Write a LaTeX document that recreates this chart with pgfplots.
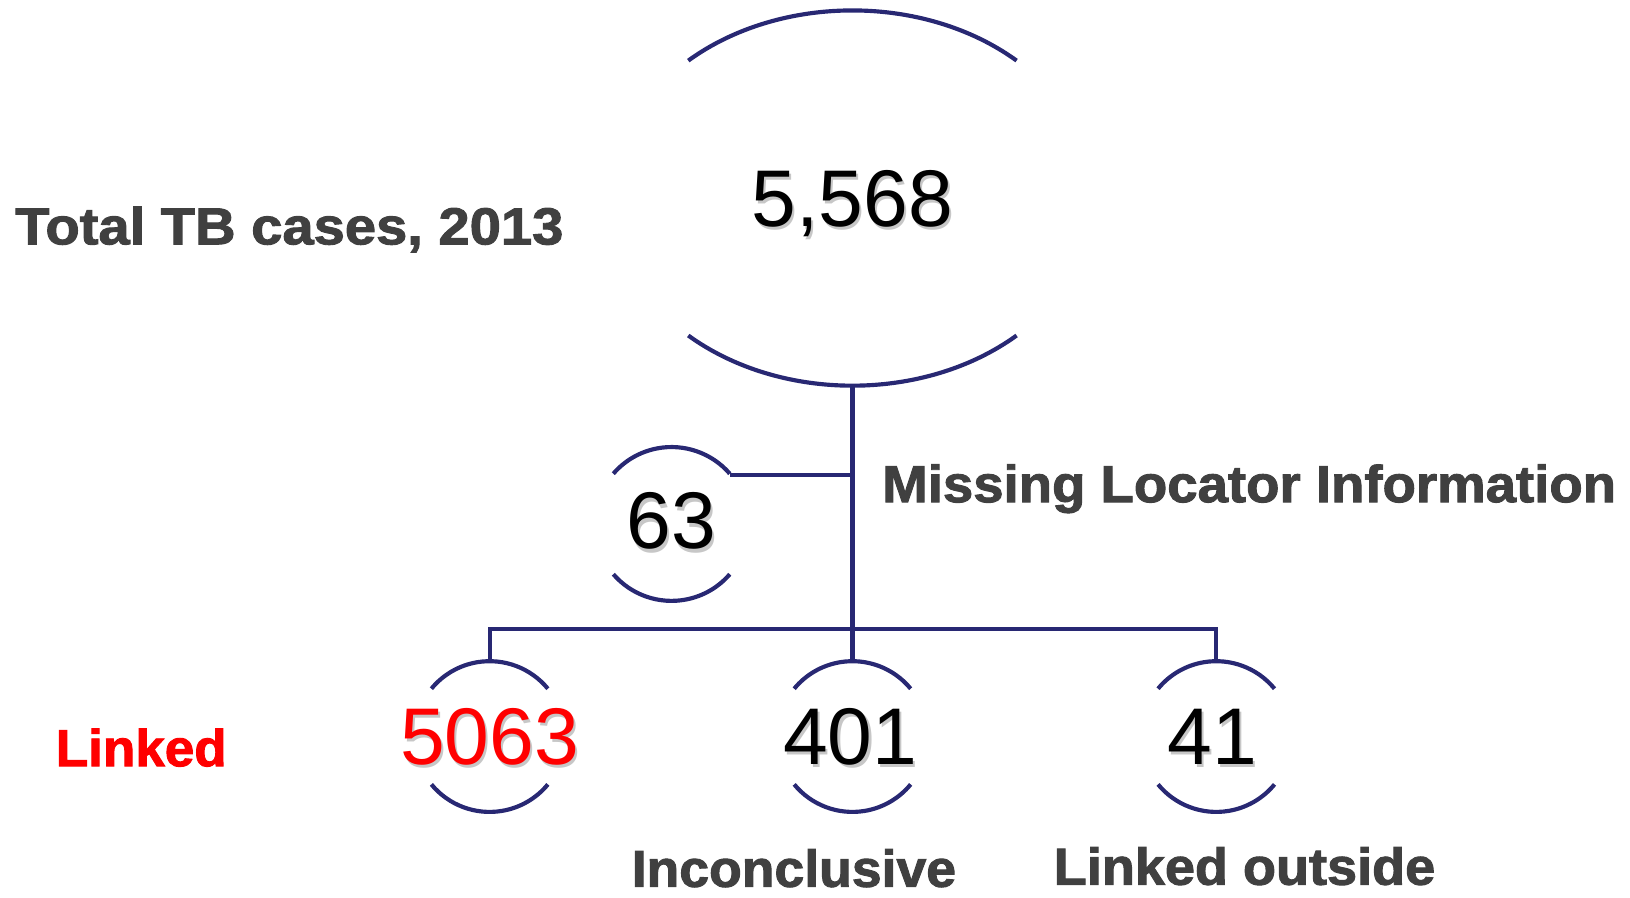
\documentclass[border=0pt]{standalone}
\usepackage{fontspec}
\setmainfont{Liberation Sans}
\newfontfamily\labfont{Liberation Sans}[BoldFeatures={FakeBold=1.8}]
\usepackage{pgfplots}
\pgfplotsset{compat=1.18}
\definecolor{navy}{RGB}{40,40,115}
\definecolor{labgray}{RGB}{64,64,64}
\definecolor{myred}{RGB}{255,0,0}
\newcommand\sh[1]{\makebox[0pt][l]{\hspace{0.6pt}\raisebox{-0.9pt}{\textcolor{black!22}{#1}}}#1}
\newcommand\ellarc[6]{\draw[navy,line width=1.2pt] ([shift={(#3:#5pt and #6pt)}]axis cs:#1,#2) arc[start angle=#3, end angle=#4, x radius=#5pt, y radius=#6pt];}
\begin{document}
\begin{tikzpicture}
\begin{axis}[
  width=470.4pt, height=258.9pt, scale only axis,
  xmin=0, xmax=1568, ymin=0, ymax=863, y dir=reverse,
  hide axis, clip=false,
]
% connector lines
\addplot[navy, line width=1.2pt, mark=none] coordinates {(820,371) (820,636)};
\addplot[navy, line width=1.2pt, mark=none] coordinates {(702,457) (820,457)};
\addplot[navy, line width=1.2pt, mark=none] coordinates {(471,636) (471,605) (1170,605) (1170,636)};
% circles (arcs)
\ellarc{820}{190.5}{47.1}{132.9}{69.6}{54.15}
\ellarc{820}{190.5}{227.1}{312.9}{69.6}{54.15}
\ellarc{646}{504}{40.8}{139.2}{22.2}{22.2}
\ellarc{646}{504}{220.8}{319.2}{22.2}{22.2}
\ellarc{471}{708.5}{39.4}{140.6}{21.75}{21.75}
\ellarc{471}{708.5}{219.4}{320.6}{21.75}{21.75}
\ellarc{820}{708.5}{39.4}{140.6}{21.75}{21.75}
\ellarc{820}{708.5}{219.4}{320.6}{21.75}{21.75}
\ellarc{1170}{708.5}{39.4}{140.6}{21.75}{21.75}
\ellarc{1170}{708.5}{219.4}{320.6}{21.75}{21.75}
% counts
\addplot[draw=none, mark=none, nodes near coords={\sh{\pgfplotspointmeta}},
  point meta=explicit symbolic,
  nodes near coords style={anchor=base, inner sep=0pt, text=black, font=\fontsize{23.2}{26}\selectfont}]
  coordinates {(820,218) [{5,568}] (646,528) [63] (818,735) [401] (1166,735) [41]};
\addplot[draw=none, mark=none, nodes near coords={\sh{\pgfplotspointmeta}},
  point meta=explicit symbolic,
  nodes near coords style={anchor=base, inner sep=0pt, text=myred, font=\fontsize{23.2}{26}\selectfont}]
  coordinates {(471,735) [5063]};
% labels
\node[anchor=base west, inner sep=0pt, text=labgray, xscale=1.08, font=\labfont\bfseries\fontsize{15}{18}\selectfont] at (axis cs:14,235) {Total TB cases, 2013};
\node[anchor=base west, inner sep=0pt, text=labgray, xscale=1.05, font=\labfont\bfseries\fontsize{15}{18}\selectfont] at (axis cs:848,483) {Missing Locator Information};
\node[anchor=base west, inner sep=0pt, text=myred, xscale=1.02, font=\labfont\bfseries\fontsize{15}{18}\selectfont] at (axis cs:53,737) {Linked};
\node[anchor=base west, inner sep=0pt, text=labgray, xscale=1.03, font=\labfont\bfseries\fontsize{15}{18}\selectfont] at (axis cs:607,853) {Inconclusive};
\node[anchor=base west, inner sep=0pt, text=labgray, xscale=1.04, font=\labfont\bfseries\fontsize{15}{18}\selectfont] at (axis cs:1013,851) {Linked outside};
\end{axis}
\pgfresetboundingbox
\path (current axis.south west) rectangle (current axis.north east);
\end{tikzpicture}
\end{document}
